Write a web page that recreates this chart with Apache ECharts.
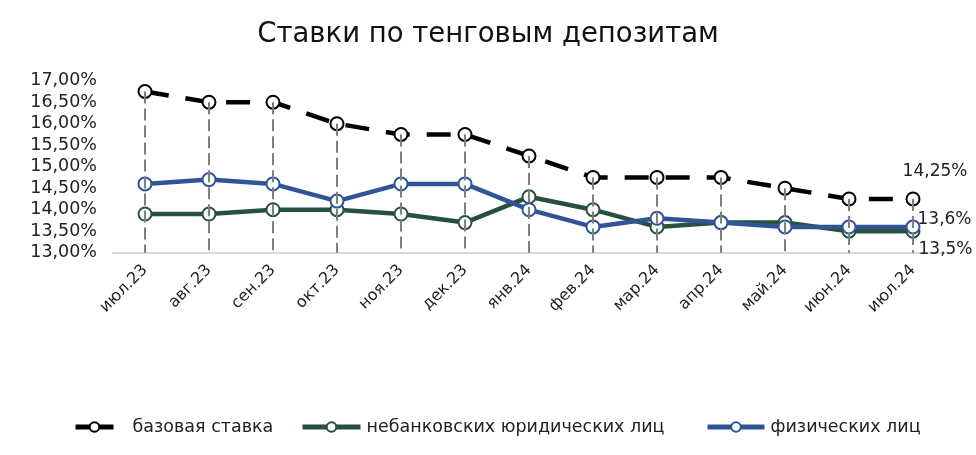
<!DOCTYPE html>
<html><head><meta charset="utf-8">
<script src="https://cdn.jsdelivr.net/npm/echarts@6/dist/echarts.min.js"></script>
<style>html,body{margin:0;padding:0;background:#fff}#c{width:976px;height:455px}</style>
</head><body><div id="c"></div>
<script>
var categories = ['июл.23','авг.23','сен.23','окт.23','ноя.23','дек.23','янв.24','фев.24','мар.24','апр.24','май.24','июн.24','июл.24'];
var baseRate = [16.75,16.5,16.5,16.0,15.75,15.75,15.25,14.75,14.75,14.75,14.5,14.25,14.25];
var legalEntities = [13.9,13.9,14.0,14.0,13.9,13.7,14.3,14.0,13.6,13.7,13.7,13.5,13.5];
var individuals = [14.6,14.7,14.6,14.2,14.6,14.6,14.0,13.6,13.8,13.7,13.6,13.6,13.6];
var seriesNames = ['базовая ставка','небанковских юридических лиц','физических лиц'];
var titleText = 'Ставки по тенговым депозитам';

var FONT = 'DejaVu Sans';
var C_BASE = '#000', C_LEGAL = '#27513a', C_IND = '#2f5597';
function lastLabel(arr, digits, pos, offset){
  return arr.map(function(v,i){
    if(i!==arr.length-1) return v;
    return {value:v,label:{show:true,position:pos,offset:offset,fontFamily:FONT,fontSize:17,color:'#222',
      formatter:function(p){return p.value.toFixed(digits).replace('.',',')+'%';}}};
  });
}
var drops = baseRate.map(function(v,i){return [{coord:[i,v]},{coord:[i,13]}];});

function leg(name, left, w, color, pad){
  return {left:left,top:418,itemWidth:w,itemHeight:12,padding:0,
    textStyle:{fontFamily:FONT,fontSize:17.5,color:'#222',padding:[0,0,0,pad]},
    lineStyle:{width:5,type:'solid',color:color},
    itemStyle:{color:'#fff',borderColor:color,borderWidth:2},
    data:[name]};
}

var chart = echarts.init(document.getElementById('c'));
chart.setOption({
  animation:false,
  title:{text:titleText,left:'center',top:16,textStyle:{fontFamily:FONT,fontSize:27.5,fontWeight:'normal',color:'#111'}},
  grid:{left:113,right:31,top:80.7,bottom:202.3},
  xAxis:{type:'category',data:categories,boundaryGap:true,
    axisLine:{lineStyle:{color:'#d9d9d9',width:2}},axisTick:{show:false},
    axisLabel:{rotate:45,fontFamily:FONT,fontSize:16,color:'#222',margin:15,interval:0,padding:[20,0,0,0]}},
  yAxis:{type:'value',min:13,max:17,interval:0.5,splitLine:{show:false},axisLine:{show:false},axisTick:{show:false},
    axisLabel:{fontFamily:FONT,fontSize:17.5,color:'#222',margin:16,
      formatter:function(v){return v.toFixed(2).replace('.',',')+'%';}}},
  legend:[leg(seriesNames[0],73,38,C_BASE,14), leg(seriesNames[1],300,58,C_LEGAL,1), leg(seriesNames[2],705,57,C_IND,1)],
  series:[
    {name:seriesNames[0],type:'line',data:lastLabel(baseRate,2,'top',[22,-6]),
      lineStyle:{color:C_BASE,width:4.5,type:[24,17]},itemStyle:{color:'#fff',borderColor:C_BASE,borderWidth:2},
      symbol:'circle',symbolSize:13,z:3},
    {name:seriesNames[1],type:'line',data:lastLabel(legalEntities,1,'right',[-7,18]),
      lineStyle:{color:C_LEGAL,width:4.5},itemStyle:{color:'#fff',borderColor:C_LEGAL,borderWidth:2},
      symbol:'circle',symbolSize:13,z:4},
    {name:seriesNames[2],type:'line',data:lastLabel(individuals,1,'right',[-8,-7]),
      lineStyle:{color:C_IND,width:4.5},itemStyle:{color:'#fff',borderColor:C_IND,borderWidth:2},
      symbol:'circle',symbolSize:13,z:5,
      markLine:{silent:true,symbol:'none',label:{show:false},z:10,
        lineStyle:{color:'#7f7f7f',width:2,type:[12,5]},data:drops}}
  ]
});
</script></body></html>
